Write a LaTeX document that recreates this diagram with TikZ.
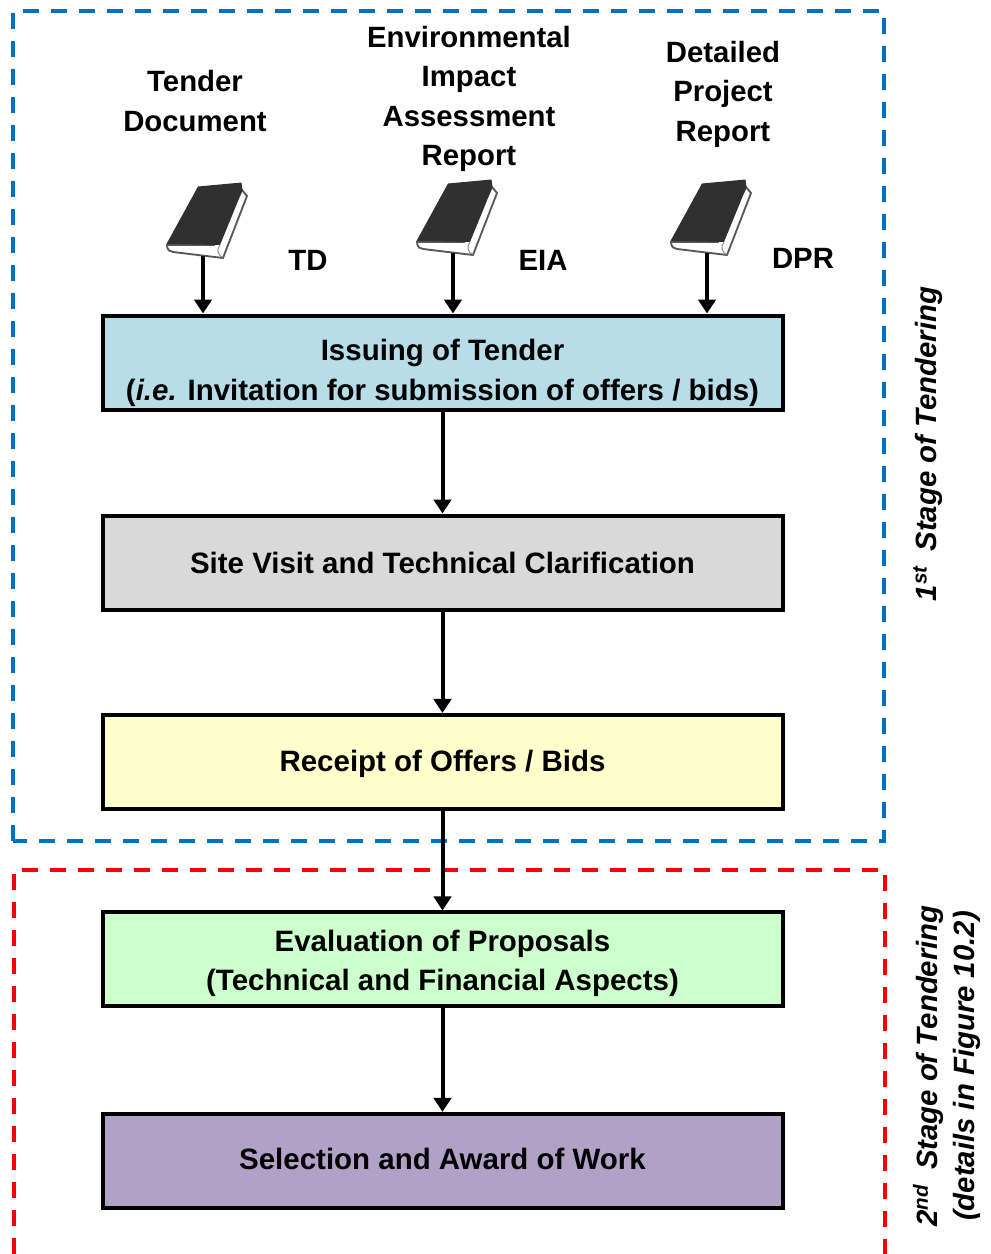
\documentclass[tikz,border=0pt]{standalone}
\usepackage{fontspec}
\setmainfont{Liberation Sans}
\usepackage{tikz}
\usetikzlibrary{arrows.meta,positioning}
\definecolor{stageblue}{HTML}{0070C0}
\definecolor{stagered}{HTML}{FF0000}
\definecolor{issuefill}{HTML}{B7DDE8}
\definecolor{sitefill}{HTML}{D9D9D9}
\definecolor{offerfill}{HTML}{FFFFCC}
\definecolor{evalfill}{HTML}{CCFFCC}
\definecolor{awardfill}{HTML}{B2A1C7}
\definecolor{bookdark}{HTML}{303030}
\newcommand{\toplift}[1]{\rule{0pt}{#1}}
\tikzstyle{arrow} = [-{Triangle[length=10.5pt,width=13pt]}, line width=3pt]
\tikzstyle{process} = [rectangle, draw=black, line width=3pt, minimum width=510pt, minimum height=70.5pt,
   align=center, font=\bfseries\fontsize{22.1}{29.6}\selectfont, inner sep=0pt]
\tikzstyle{doclabel} = [align=center, font=\bfseries\fontsize{22}{29.6}\selectfont, inner sep=0pt]
\tikzstyle{stagelabel} = [rotate=90, align=center, font=\bfseries\itshape\fontsize{22}{27.7}\selectfont, inner sep=0pt]
\tikzstyle{stagebox} = [line width=3pt, dash pattern=on 12pt off 9pt]
\tikzset{
  bookicon/.pic={
    \draw [fill=white, draw=black!65, line width=1.4pt] (-36,-13) .. controls (-36,-8) and (-33,-6) .. (-30,-6)
      -- (20,0) -- (44,-62) -- (39,-68) -- (11,-13) -- cycle;
    \fill [bookdark] (-5,-71.5) -- (38.5,-75.5) -- (39.5,-68) -- (17,-13) -- (-36.5,-14) -- cycle;
    \draw [black!50, line width=.6pt] (17,-13) .. controls (13,-8) and (15,-3) .. (20,0);
  }
}
\begin{document}
\begin{tikzpicture}[x=0.75pt,y=-0.75pt,node distance=150pt]
\useasboundingbox (0,0) rectangle (990,1254);

\draw [stagebox, stageblue] (13,841) -- (13,11) -- (884,11) -- (884,841) -- cycle;
\draw [stagebox, stagered] (14,1254) -- (14,870) -- (885,870) -- (885,1254);

\node (issue) [process, fill=issuefill] at (442.5,362.5) {\toplift{31.8pt}Issuing of Tender\\(\textit{i.e.} Invitation for submission of offers / bids)};
\node (site) [process, fill=sitefill, below of=issue] {Site Visit and Technical Clarification};
\node (offer) [process, fill=offerfill, below of=site, yshift=.4pt] {\toplift{19pt}Receipt of Offers / Bids};
\node (eval) [process, fill=evalfill, below of=offer, yshift=1.9pt] {\toplift{22pt}Evaluation of Proposals\\(Technical and Financial Aspects)};
\node (award) [process, fill=awardfill, below of=eval, yshift=-1.1pt] {\rule[-3.3pt]{0pt}{1pt}Selection and Award of Work};

\draw [arrow] (issue) -- (site);
\draw [arrow] (site) -- (offer);
\draw [arrow] (offer) -- (eval);
\draw [arrow] (eval) -- (award);

% books above the first box
\pic at (203,258) {bookicon};
\pic at (453,255) {bookicon};
\pic at (707,255) {bookicon};
\coordinate (tdbook) at (203,256);
\coordinate (eiabook) at (453,253);
\coordinate (dprbook) at (707,253);

\draw [arrow] (tdbook) -- (tdbook |- issue.north);
\draw [arrow] (eiabook) -- (eiabook |- issue.north);
\draw [arrow] (dprbook) -- (dprbook |- issue.north);

\node (tdname) [doclabel] at (195,101) {Tender\\Document};
\node (eianame) [doclabel] at (469,99) {Environmental\\Impact\\Assessment\\Report};
\node (dprname) [doclabel] at (723,94) {Detailed\\Project\\Report};

\node (td) [doclabel] at (308,260) {TD};
\node (eia) [doclabel] at (543,260) {EIA};
\node (dpr) [doclabel] at (803,258) {DPR};

\node (first) [stagelabel] at (928,444) {1\textsuperscript{st}\hspace{.5em}Stage of Tendering};
\node (second) [stagelabel] at (947,1066) {2\textsuperscript{nd}\hspace{.5em}Stage of Tendering\\(details in Figure 10.2)};

\end{tikzpicture}
\end{document}
